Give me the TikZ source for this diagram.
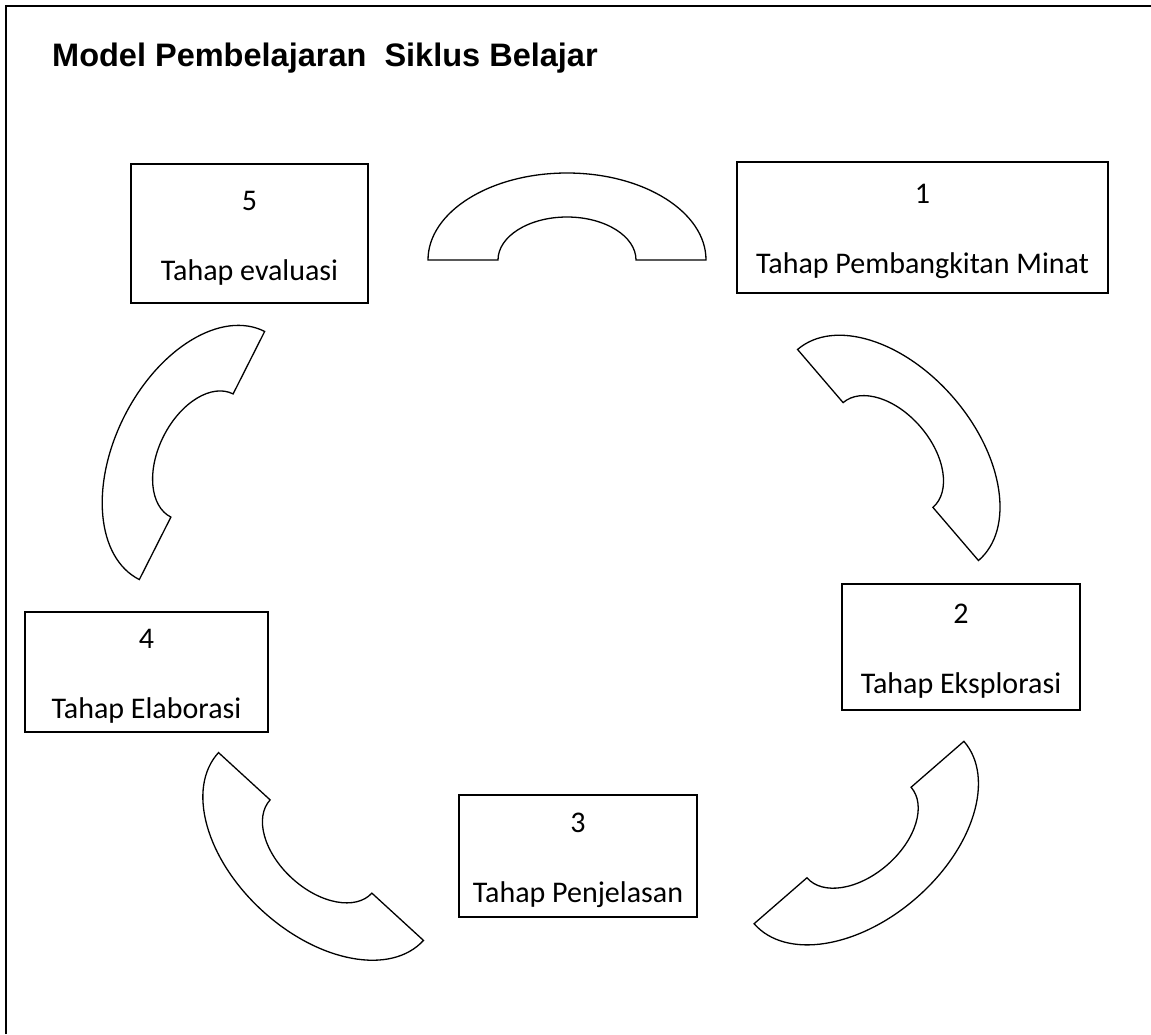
\documentclass[tikz,border=0pt]{standalone}
\usepackage{fontspec}
\setmainfont{Carlito}
\newfontfamily\titlefont{Liberation Sans}
\usetikzlibrary{positioning}

\newcommand{\stagetext}[2]{\rule{0pt}{28pt}#1\\#2}

\tikzset{
  stagebox/.style={rectangle, draw, line width=1.5pt, align=center, inner sep=0pt,
    font=\fontsize{30}{70}\selectfont},
  arcline/.style={draw, line width=1.3pt, line join=miter},
  pics/cyclearc/.style={code={
    \draw[arcline] (-139,0) arc[start angle=180, end angle=360, x radius=139, y radius=87]
      -- (69,0) arc[start angle=360, end angle=180, x radius=69, y radius=43] -- cycle;
  }}
}

\begin{document}
\begin{tikzpicture}[x=1pt, y=-1pt]
\useasboundingbox (0,0) rectangle (1151,1034);
% frame
\draw[line width=2pt] (6,1034) -- (6,6) -- (1151,6);

% title
\node[anchor=base west, inner sep=0pt, font={\titlefont\bfseries\fontsize{32.5}{38}\selectfont}] (title) at (52,66) {Model Pembelajaran~ Siklus Belajar};

% stages
\node[stagebox, minimum width=371pt, minimum height=131pt] (minat) at (922.5,227.5) {\stagetext{1}{Tahap Pembangkitan Minat}};
\node[stagebox, minimum width=238pt, minimum height=126pt] (eksplorasi) at (961,647) {\stagetext{2}{Tahap Eksplorasi}};
\node[stagebox, minimum width=238pt, minimum height=122pt] (penjelasan) at (578,856) {\stagetext{3}{Tahap Penjelasan}};
\node[stagebox, minimum width=243pt, minimum height=120pt] (elaborasi) at (146.5,672) {\stagetext{4}{Tahap Elaborasi}};
\node[stagebox, minimum width=237pt, minimum height=139pt] (evaluasi) at (249.5,233.5) {\stagetext{5}{Tahap evaluasi}};

% arcs between the stages
\pic (arcA) at (567,260) {cyclearc};
\pic[rotate=-49.4] (arcB) at (888,455) {cyclearc};
\pic[rotate=-139] (arcC) at (859,832.5) {cyclearc};
\pic[rotate=137.5] (arcD) at (321,846.5) {cyclearc};
\pic[rotate=63.2] (arcE) at (202,455.5) {cyclearc};
\end{tikzpicture}
\end{document}
